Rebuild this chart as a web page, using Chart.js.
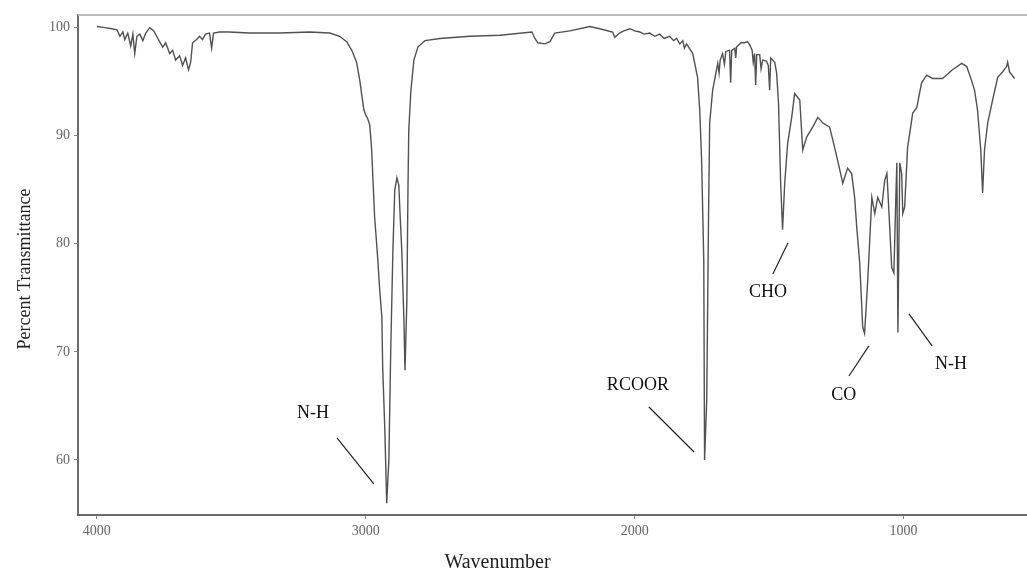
<!DOCTYPE html>
<html>
<head>
<meta charset="utf-8">
<script src="https://cdn.jsdelivr.net/npm/chart.js@4/dist/chart.umd.min.js"></script>
<style>
  body { margin: 0; background: #fff; }
  #chart { display: block; }
</style>
</head>
<body>
<canvas id="chart" width="1027" height="574"></canvas>
<script>
// IR spectrum, wavenumber (cm-1) against percent transmittance
var wavenumber = [
  4000, 3970, 3944, 3925, 3914, 3903, 3896, 3885, 3874, 3866, 3859, 3851, 3840, 3829, 3818,
  3803, 3788, 3773, 3755, 3744, 3729, 3718, 3707, 3692, 3681, 3670, 3659, 3651, 3644, 3629,
  3618, 3607, 3596, 3581, 3573, 3566, 3544, 3507, 3432, 3320, 3208, 3134, 3097, 3071, 3052,
  3034, 3022, 3015, 3007, 3000, 2993, 2985, 2978, 2967, 2955, 2948, 2940, 2937, 2929, 2922,
  2914, 2907, 2899, 2892, 2884, 2877, 2873, 2866, 2858, 2854, 2847, 2843, 2840, 2832, 2821,
  2806, 2780, 2724, 2613, 2501, 2382, 2371, 2360, 2334, 2315, 2297, 2241, 2167, 2130, 2082,
  2074, 2056, 2040, 2018, 2000, 1981, 1965, 1944, 1925, 1907, 1890, 1870, 1855, 1844, 1832,
  1821, 1815, 1807, 1784, 1766, 1758, 1751, 1743, 1740, 1732, 1725, 1721, 1710, 1691, 1686,
  1682, 1673, 1666, 1661, 1647, 1643, 1639, 1628, 1624, 1621, 1605, 1591, 1580, 1572, 1563,
  1559, 1554, 1550, 1546, 1535, 1530, 1524, 1510, 1503, 1498, 1494, 1479, 1472, 1465, 1457,
  1450, 1442, 1431, 1416, 1405, 1386, 1375, 1360, 1338, 1319, 1301, 1275, 1263, 1245, 1226,
  1208, 1193, 1182, 1174, 1163, 1152, 1145, 1133, 1118, 1107, 1096, 1081, 1070, 1062, 1058,
  1044, 1036, 1029, 1025, 1021, 1014, 1007, 1003, 996, 985, 966, 951, 933, 914, 892,
  855, 818, 784, 765, 747, 736, 725, 713, 706, 699, 687, 669, 650, 632, 617,
  613, 606, 587
];
var transmittance = [
  100.1, 100.0, 99.9, 99.8, 99.2, 99.6, 98.9, 99.5, 98.3, 99.4, 97.6, 99.2, 99.4, 98.8, 99.5,
  100.0, 99.7, 99.0, 98.2, 98.6, 97.6, 97.9, 97.0, 97.4, 96.5, 97.2, 96.1, 96.8, 98.6, 98.9,
  99.2, 98.9, 99.4, 99.5, 98.1, 99.5, 99.6, 99.6, 99.5, 99.5, 99.6, 99.5, 99.2, 98.7, 97.9,
  96.8, 95.1, 93.8, 92.4, 91.9, 91.6, 91.0, 88.7, 82.5, 78.5, 75.7, 73.2, 68.6, 62.8, 56.0,
  60.0, 70.2, 79.4, 85.0, 86.1, 85.4, 83.1, 79.4, 72.9, 68.3, 74.8, 85.0, 90.5, 94.2, 97.0,
  98.2, 98.8, 99.0, 99.2, 99.3, 99.6, 99.0, 98.6, 98.5, 98.7, 99.5, 99.7, 100.1, 99.9, 99.6,
  99.1, 99.5, 99.7, 99.9, 99.7, 99.6, 99.4, 99.5, 99.2, 99.4, 99.0, 99.2, 98.8, 99.0, 98.5,
  98.8, 98.1, 98.5, 97.6, 95.4, 92.4, 87.7, 78.5, 60.0, 65.5, 83.1, 91.2, 94.2, 96.7, 95.8,
  97.0, 97.6, 96.6, 97.8, 97.9, 94.9, 97.9, 98.1, 97.2, 98.2, 98.6, 98.6, 98.7, 98.4, 97.9,
  96.8, 97.6, 94.7, 97.5, 97.5, 96.2, 97.0, 96.9, 96.5, 94.2, 97.2, 96.8, 95.8, 93.0, 85.6,
  81.3, 85.6, 89.3, 91.7, 93.9, 93.3, 88.7, 89.9, 90.8, 91.7, 91.2, 90.8, 89.6, 87.7, 85.6,
  87.0, 86.5, 84.3, 81.5, 78.2, 72.3, 71.7, 76.7, 84.3, 82.8, 84.3, 83.4, 85.9, 86.5, 84.7,
  77.8, 77.3, 84.0, 87.5, 71.8, 87.5, 86.5, 82.8, 83.4, 88.9, 92.1, 92.6, 94.9, 95.6, 95.3,
  95.3, 96.1, 96.7, 96.4, 95.1, 94.2, 92.4, 88.7, 84.7, 88.7, 91.2, 93.3, 95.4, 95.9, 96.4,
  96.8, 95.9, 95.3
];

var xTicks = [4000, 3000, 2000, 1000];
var yTicks = [60, 70, 80, 90, 100];

// band assignments: label anchor and leader line ends, in data units
var bandLabels = ['N-H', 'RCOOR', 'CHO', 'CO', 'N-H'];
var labelAt = [[3196, 64.35], [1988, 66.94], [1504, 75.54], [1222, 66.01], [824, 68.88]];
var leaderFrom = [[3107, 62.04], [1947, 64.90], [1430, 80.07], [1129, 70.55], [980, 73.51]];
var leaderTo = [[2970, 57.78], [1779, 60.74], [1486, 77.21], [1203, 67.77], [894, 70.55]];

var points = wavenumber.map(function (w, i) { return { x: w, y: transmittance[i] }; });

var serif = '"Liberation Serif", "Times New Roman", serif';

var extras = {
    id: 'extras',
    afterDraw: function (chart) {
        var c = chart.ctx;
        var a = chart.chartArea;
        var sx = chart.scales.x, sy = chart.scales.y;
        c.save();
        // light frame line along the top
        c.strokeStyle = '#bdbdbd';
        c.lineWidth = 2;
        c.beginPath();
        c.moveTo(a.left, a.top);
        c.lineTo(a.right, a.top);
        c.stroke();

        // band labels
        c.fillStyle = '#111';
        c.strokeStyle = '#222';
        c.lineWidth = 1.2;
        c.font = '18px ' + serif;
        c.textAlign = 'center';
        c.textBaseline = 'middle';
        for (var i = 0; i < bandLabels.length; i++) {
            c.fillText(bandLabels[i], sx.getPixelForValue(labelAt[i][0]), sy.getPixelForValue(labelAt[i][1]));
            c.beginPath();
            c.moveTo(sx.getPixelForValue(leaderFrom[i][0]), sy.getPixelForValue(leaderFrom[i][1]));
            c.lineTo(sx.getPixelForValue(leaderTo[i][0]), sy.getPixelForValue(leaderTo[i][1]));
            c.stroke();
        }

        // axis titles
        c.fillStyle = '#222';
        c.font = '20px ' + serif;
        c.fillText('Wavenumber', (a.left + a.right) / 2 - 55, 563);
        c.translate(25, 269);
        c.rotate(-Math.PI / 2);
        c.font = '18px ' + serif;
        c.fillText('Percent Transmittance', 0, 0);
        c.restore();
    }
};

function plainNumber(v) { return String(v); }

var ctx = document.getElementById('chart').getContext('2d');
var chart = new Chart(ctx, {
    type: 'line',
    data: {
        datasets: [{
            data: points,
            borderColor: 'rgba(50, 50, 50, 0.85)',
            borderWidth: 1.4,
            pointRadius: 0,
            tension: 0,
            fill: false
        }]
    },
    options: {
        responsive: false,
        animation: false,
        layout: { padding: { top: 15, left: 0, right: 0, bottom: 0 } },
        plugins: {
            legend: { display: false },
            tooltip: { enabled: false }
        },
        scales: {
            x: {
                type: 'linear',
                reverse: true,
                min: 541,
                max: 4070,
                afterBuildTicks: function (scale) {
                    scale.ticks = xTicks.map(function (v) { return { value: v }; });
                },
                afterFit: function (scale) { scale.height = 59; },
                border: { color: '#6a6a6a', width: 2 },
                grid: { drawOnChartArea: false, drawTicks: true, tickLength: 4, color: '#888' },
                ticks: {
                    color: '#666',
                    padding: 4,
                    maxRotation: 0,
                    callback: plainNumber,
                    font: { family: serif, size: 14 }
                }
            },
            y: {
                min: 54.91,
                max: 101.17,
                afterBuildTicks: function (scale) {
                    scale.ticks = yTicks.map(function (v) { return { value: v }; });
                },
                afterFit: function (scale) { scale.width = 78; },
                border: { color: '#6a6a6a', width: 2 },
                grid: { drawOnChartArea: false, drawTicks: true, tickLength: 4, color: '#888' },
                ticks: {
                    color: '#666',
                    padding: 4,
                    callback: plainNumber,
                    font: { family: serif, size: 14 }
                }
            }
        }
    },
    plugins: [extras]
});
</script>
</body>
</html>
